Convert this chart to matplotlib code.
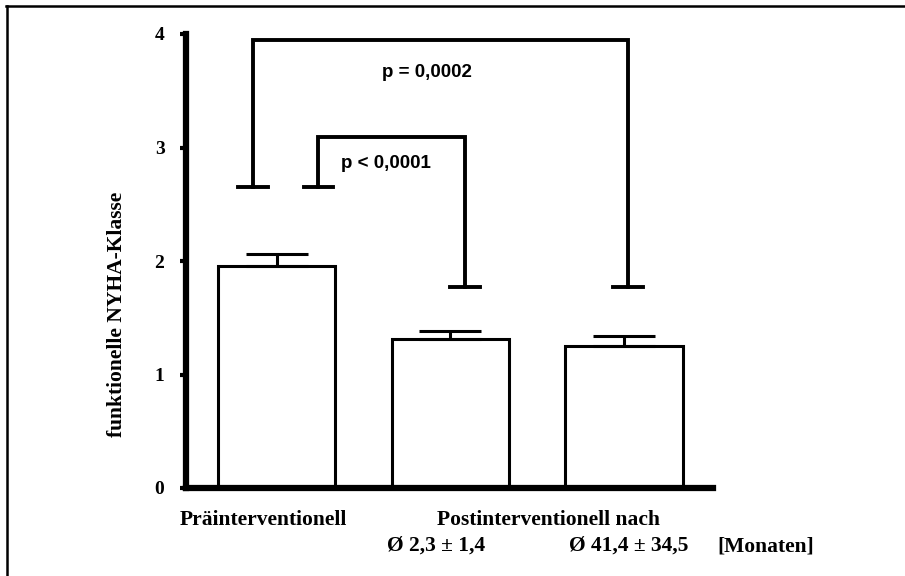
import matplotlib
matplotlib.use("Agg")
import matplotlib.pyplot as plt
from matplotlib.lines import Line2D

# bar data (NYHA class, mean and upper error)
groups = ["prae", "post_2_3", "post_41_4"]
means = [1.96, 1.31, 1.25]
errors = [0.10, 0.07, 0.09]
yticks = [0, 1, 2, 3, 4]

# significance brackets
bracket_left = [-0.134, 0.241]
bracket_right = [2.025, 1.085]
bracket_top = [3.95, 3.09]
bracket_left_end = [2.655, 2.655]
bracket_right_end = [1.774, 1.774]
p_labels = ["p = 0,0002", "p < 0,0001"]
p_x = [0.867, 0.631]
p_y = [3.665, 2.863]

ylabel = "funktionelle NYHA-Klasse"
xlabel_line1 = ["Präinterventionell", "Postinterventionell nach"]
xlabel_line2 = ["Ø 2,3 ± 1,4", "Ø 41,4 ± 34,5", "[Monaten]"]

W, H = 905, 576
fig = plt.figure(figsize=(W / 100, H / 100), dpi=100)
ax = fig.add_axes([186 / W, 88 / H, 527 / W, 454 / H])

xs = list(range(len(groups)))
ax.bar(xs, means, width=0.675, color="white", edgecolor="black", linewidth=2.2, zorder=2)
ax.errorbar(xs, means, yerr=[[0] * len(errors), errors], fmt="none", ecolor="black",
            elinewidth=2.2, capsize=22, capthick=2.2, zorder=3)

cap = 0.086
for i in range(len(bracket_left)):
    l, r, t = bracket_left[i], bracket_right[i], bracket_top[i]
    le, re = bracket_left_end[i], bracket_right_end[i]
    ax.plot([l, l, r, r], [le, t, t, re], color="black", lw=2.8, solid_joinstyle="miter",
            clip_on=False, zorder=4)
    ax.plot([l - cap, l + cap], [le, le], color="black", lw=2.8, clip_on=False, zorder=4)
    ax.plot([r - cap, r + cap], [re, re], color="black", lw=2.8, clip_on=False, zorder=4)
    ax.text(p_x[i], p_y[i], p_labels[i], ha="center", va="center", fontsize=13.5,
            fontweight="bold", family="Liberation Sans")

ax.set_xlim(-0.5216, 2.513)
ax.set_ylim(0, 4)
ax.set_yticks(yticks)
ax.set_yticklabels([str(v) for v in yticks], fontsize=14, fontweight="bold",
                   family="Liberation Serif")
ax.set_xticks(xs)
ax.set_xticklabels([])
ax.tick_params(axis="y", direction="out", length=4, width=3, pad=11.5)
ax.tick_params(axis="x", direction="out", length=2.5, width=3)
for s in ["top", "right"]:
    ax.spines[s].set_visible(False)
for s in ["left", "bottom"]:
    ax.spines[s].set_linewidth(4.5)

ax.text(-0.131, 0.383, ylabel, transform=ax.transAxes, rotation=90, ha="center",
        va="center", fontsize=15.5, fontweight="bold", family="Liberation Serif")

serif = dict(fontsize=15.5, fontweight="bold", family="Liberation Serif", va="center", ha="left")
fig.text(180 / W, 1 - 520 / H, xlabel_line1[0], **serif)
fig.text(437 / W, 1 - 520 / H, xlabel_line1[1], **serif)
fig.text(387 / W, 1 - 546 / H, xlabel_line2[0], **serif)
fig.text(569 / W, 1 - 546 / H, xlabel_line2[1], **serif)
fig.text(717 / W, 1 - 546 / H, xlabel_line2[2], **serif)

# outer frame (top and left only)
fig.add_artist(Line2D([6 / W, 1], [1 - 6 / H, 1 - 6 / H], transform=fig.transFigure,
                      color="black", lw=1.8))
fig.add_artist(Line2D([7 / W, 7 / W], [0, 1 - 6 / H], transform=fig.transFigure,
                      color="black", lw=1.8))

fig.savefig("out.png", dpi=100)
